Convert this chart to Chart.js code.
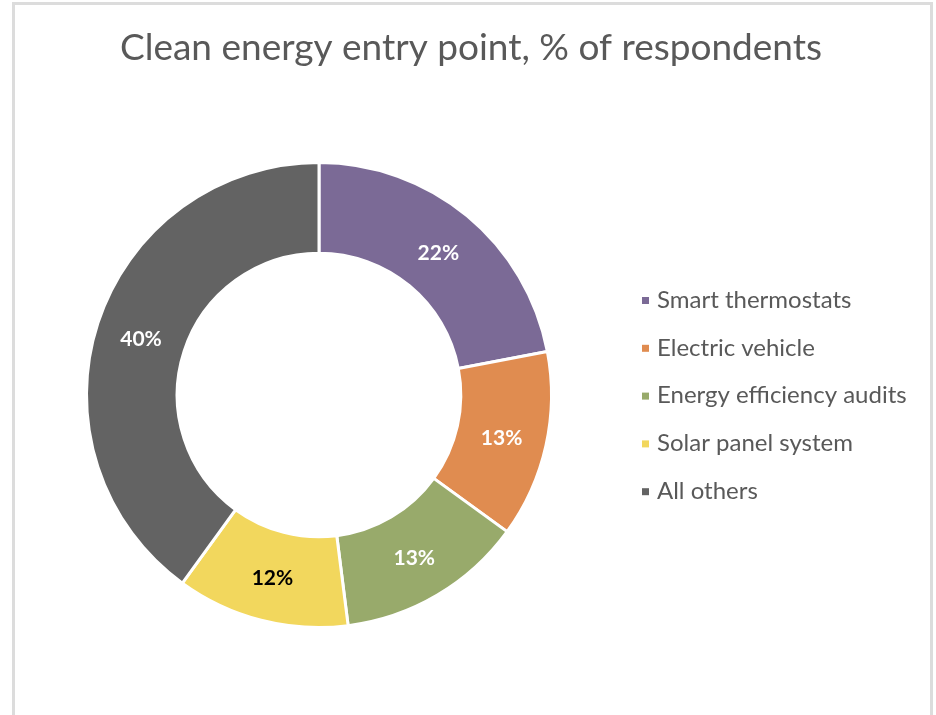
<!DOCTYPE html>
<html>
<head>
<meta charset="utf-8">
<script src="https://cdn.jsdelivr.net/npm/chart.js@4.4.0/dist/chart.umd.min.js"></script>
<style>
  html, body { margin: 0; padding: 0; background: #fff; }
  #wrap { position: relative; width: 936px; height: 715px; }
  #frame { position: absolute; left: 12px; top: 2px; width: 915px; height: 720px;
           border: 3px solid #dcdcdc; border-bottom: none; }
  canvas { position: absolute; left: 0; top: 0; }
</style>
</head>
<body>
<div id="wrap">
  <div id="frame"></div>
  <canvas id="donut" width="936" height="715"></canvas>
</div>
<script>
const categories = ['Smart thermostats', 'Electric vehicle', 'Energy efficiency audits', 'Solar panel system', 'All others'];
const shares = [22, 13, 13, 12, 40];
const sliceColors = ['#7b6a96', '#e08c50', '#98aa6b', '#f2d75d', '#636363'];
const labelColors = ['#ffffff', '#ffffff', '#ffffff', '#000000', '#ffffff'];
const chartTitle = 'Clean energy entry point, % of respondents';

const fontFace = 'Lato, "Open Sans", sans-serif';

// title centred over the whole frame
const frameTitle = {
  id: 'frameTitle',
  afterDraw(chart) {
    const ctx = chart.ctx;
    ctx.save();
    ctx.font = '37px ' + fontFace;
    ctx.fillStyle = '#595959';
    ctx.textAlign = 'center';
    ctx.textBaseline = 'middle';
    ctx.fillText(chartTitle, 471, 48);
    ctx.restore();
  }
};

// percent labels in the middle of each ring slice
const sliceLabels = {
  id: 'sliceLabels',
  afterDatasetsDraw(chart) {
    const ctx = chart.ctx;
    const meta = chart.getDatasetMeta(0);
    ctx.save();
    ctx.font = 'bold 21px ' + fontFace;
    ctx.textAlign = 'center';
    ctx.textBaseline = 'middle';
    meta.data.forEach((arc, i) => {
      const p = arc.tooltipPosition();
      ctx.fillStyle = labelColors[i];
      ctx.fillText(shares[i] + '%', p.x, p.y + 2);
    });
    ctx.restore();
  }
};

// legend to the right, square markers
const sideLegend = {
  id: 'sideLegend',
  afterDraw(chart) {
    const ctx = chart.ctx;
    ctx.save();
    ctx.font = '24px ' + fontFace;
    ctx.textBaseline = 'middle';
    categories.forEach((name, i) => {
      const y = 300 + i * 47.8;
      ctx.fillStyle = sliceColors[i];
      ctx.fillRect(642, y - 3, 7, 7);
      ctx.fillStyle = '#595959';
      ctx.fillText(name, 657, y);
    });
    ctx.restore();
  }
};

new Chart(document.getElementById('donut'), {
  type: 'doughnut',
  data: {
    labels: categories,
    datasets: [{
      data: shares,
      backgroundColor: sliceColors,
      borderColor: '#ffffff',
      borderWidth: 3
    }]
  },
  options: {
    responsive: false,
    animation: false,
    cutout: '61%',
    layout: { padding: { left: 85, right: 383, top: 161, bottom: 86 } },
    plugins: {
      legend: { display: false },
      tooltip: { enabled: false },
      title: { display: false }
    }
  },
  plugins: [sliceLabels, sideLegend, frameTitle]
});
</script>
</body>
</html>
